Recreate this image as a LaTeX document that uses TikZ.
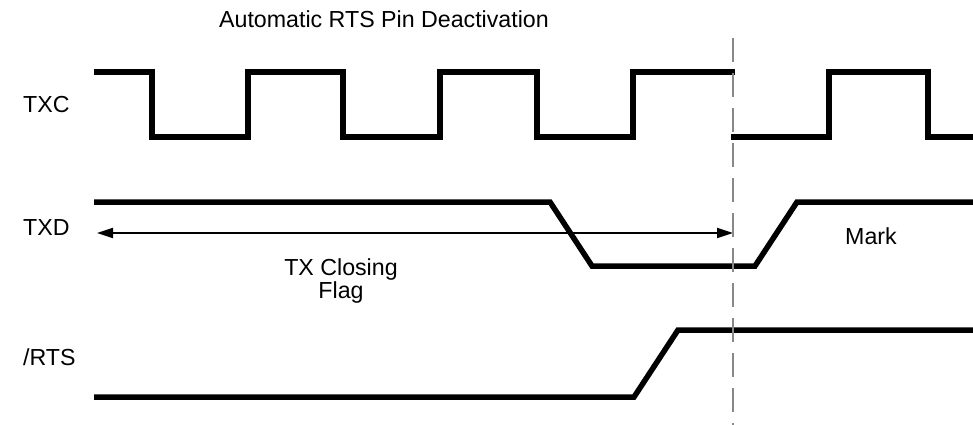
\documentclass[tikz,border=0pt]{standalone}
\usepackage{fontspec}
\setmainfont{Liberation Sans}
\usetikzlibrary{arrows.meta,positioning}
\definecolor{tdWave}{HTML}{000000}
\definecolor{tdCut}{HTML}{888888}
\tikzset{
  wave/.style={line width=5.5pt, draw=tdWave, line join=miter},
  siglabel/.style={font=\fontsize{23.2}{24}\selectfont, inner sep=0pt, anchor=base west},
  txt/.style={font=\fontsize{23.2}{23}\selectfont, inner sep=0pt, align=center},
  span/.style={{Triangle[length=16pt,width=10pt]}-{Triangle[length=16pt,width=10pt]}, line width=2pt},
  cutline/.style={draw=tdCut, line width=2.5pt, dash pattern=on 24pt off 11pt}
}
\begin{document}
\begin{tikzpicture}[x=1pt,y=-1pt]
  \useasboundingbox (0,0) rectangle (973,425);
  % title and signal names
  \node[txt, anchor=base] (title) at (384,28) {Automatic RTS Pin Deactivation};
  \node[siglabel] (txc) at (23,113) {TXC};
  \node[siglabel] (txd) at (23,235) {TXD};
  \node[siglabel] (rts) at (23,365) {/RTS};
  % TXC clock
  \draw[wave] (94,72) -- (152,72) -- (152,137) -- (248,137) -- (248,72) -- (343,72)
    -- (343,137) -- (440,137) -- (440,72) -- (537,72) -- (537,137) -- (633,137)
    -- (633,72) -- (735,72);
  \draw[wave] (731,137) -- (829,137) -- (829,72) -- (928,72) -- (928,137) -- (973,137);
  % TXD data
  \draw[wave] (94,202) -- (550,202) -- (592,266) -- (755,266) -- (797,202) -- (973,202);
  % RTS
  \draw[wave] (94,397) -- (634,397) -- (678,330) -- (973,330);
  % closing flag span
  \coordinate (flagL) at (97,233);
  \coordinate (flagR) at (733,233);
  \draw[span] (flagL) -- (flagR);
  \node[txt] (flag) at (341,281) {TX Closing\\Flag};
  \node[txt] (mark) at (871,236) {Mark};
  % deactivation instant
  \coordinate (cutTop) at (733,38);
  \coordinate (cutBot) at (733,425);
  \draw[cutline] (cutTop) -- (cutBot);
\end{tikzpicture}
\end{document}
